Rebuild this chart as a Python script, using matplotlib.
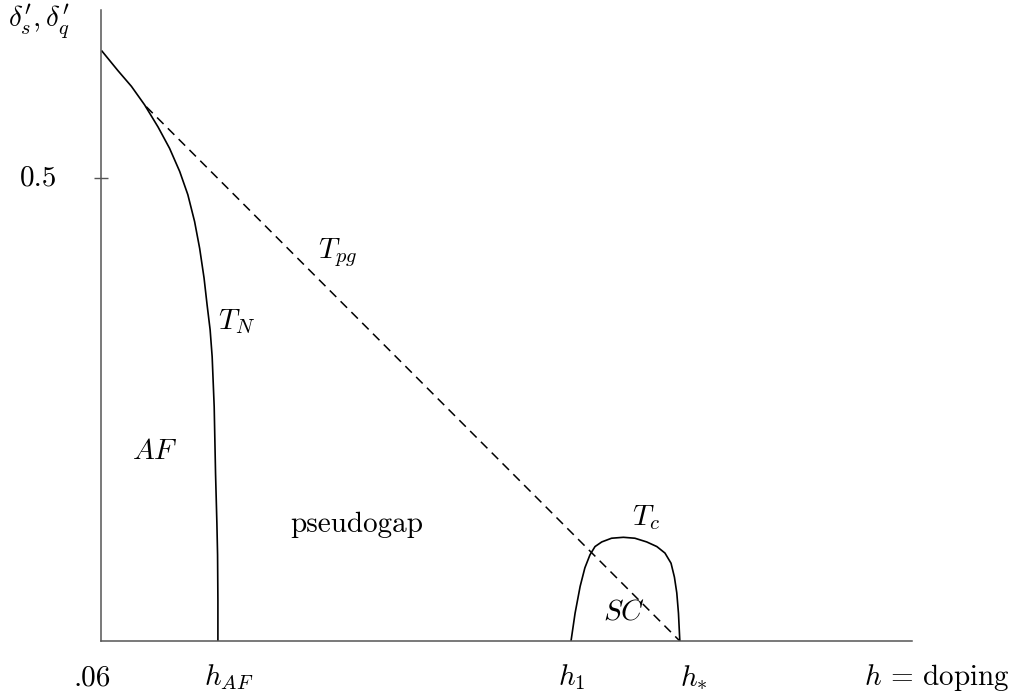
import matplotlib
matplotlib.use("Agg")
import matplotlib.pyplot as plt

plt.rcParams['mathtext.fontset'] = 'cm'

# Neel temperature curve T_N (doping, delta')
tn_h = [0.0603, 0.0650, 0.0690, 0.0729, 0.0769, 0.0803, 0.0833, 0.0857,
        0.0877, 0.0892, 0.0905, 0.0914, 0.0923, 0.0929, 0.0935, 0.0939,
        0.0943, 0.0945, 0.0946, 0.0946]
tn_d = [0.637, 0.616, 0.599, 0.579, 0.555, 0.532, 0.507, 0.482,
        0.453, 0.424, 0.392, 0.363, 0.336, 0.307, 0.253, 0.181,
        0.127, 0.093, 0.044, 0.0]

# pseudogap line T_pg (dashed)
pg_h = [0.0734, 0.2313]
pg_d = [0.577, 0.0]

# superconducting dome T_c
tc_h = [0.1991, 0.2003, 0.2018, 0.2032, 0.2047, 0.2062, 0.2082, 0.2111, 0.2146,
        0.2180, 0.2215, 0.2245, 0.2269, 0.2287, 0.2297, 0.2304, 0.2309, 0.2313]
tc_d = [0.0, 0.030, 0.059, 0.079, 0.093, 0.102, 0.107, 0.111, 0.112,
        0.111, 0.107, 0.102, 0.095, 0.084, 0.069, 0.052, 0.030, 0.0]

# x axis labels below the axis (left edges)
xlab_text = ['.06', '$h_{AF}$', '$h_1$', r'$h_{\ast}$']
xlab_pos = [0.0520, 0.0905, 0.1952, 0.2315]

fig = plt.figure(figsize=(10.16, 6.96), dpi=100)
ax = fig.add_axes([0.0994, 0.0790, 0.7982, 0.9066])
ax.set_xlim(0.06, 0.30)
ax.set_ylim(0.0, 0.6814)

ax.plot(tn_h, tn_d, color='black', lw=1.2)
ax.plot(pg_h, pg_d, color='black', lw=1.1, dashes=(6, 4))
ax.plot(tc_h, tc_d, color='black', lw=1.2)

for s in ['top', 'right']:
    ax.spines[s].set_visible(False)
for s in ['left', 'bottom']:
    ax.spines[s].set_color('#555555')
    ax.spines[s].set_linewidth(1.1)

ax.set_xticks([])
ax.set_yticks([0.5])
ax.set_yticklabels([])
ax.tick_params(axis='y', direction='inout', length=9.5, width=1.0, color='#555555')

fs = 21
ax.text(0.0325, 0.663, r"$\delta_s^{\prime}, \delta_q^{\prime}$", fontsize=fs,
        ha='left', va='baseline', clip_on=False)
ax.text(0.0470, 0.5, '0.5', fontsize=fs, family='cmr10', ha='right', va='center', clip_on=False)
for t, x in zip(xlab_text, xlab_pos):
    ax.text(x, -0.0475, t, fontsize=fs, family='cmr10', ha='left', va='baseline', clip_on=False)
ax.text(0.3288, -0.0475, r'$h\,=\,\mathrm{doping}$', fontsize=fs, ha='right', va='baseline',
        clip_on=False)

ax.text(0.1242, 0.4136, '$T_{pg}$', fontsize=fs, ha='left', va='baseline')
ax.text(0.0946, 0.3369, '$T_N$', fontsize=fs, ha='left', va='baseline')
ax.text(0.0692, 0.1965, '$AF$', fontsize=fs, ha='left', va='baseline')
ax.text(0.1159, 0.1177, 'pseudogap', fontsize=fs, family='cmr10', ha='left', va='baseline')
ax.text(0.2171, 0.1253, '$T_c$', fontsize=fs, ha='left', va='baseline')
ax.text(0.2086, 0.0227, '$SC$', fontsize=fs, ha='left', va='baseline')

fig.savefig('out.png', dpi=100)
